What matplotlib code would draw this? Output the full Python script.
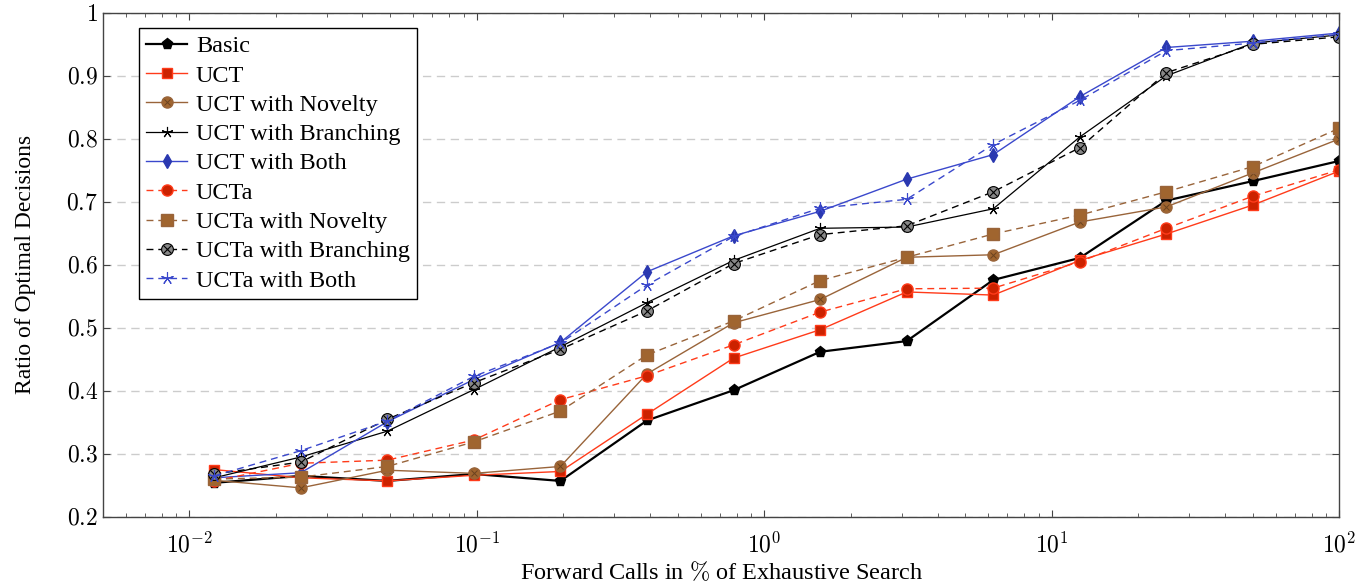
import matplotlib
matplotlib.use("Agg")
import matplotlib.pyplot as plt
from matplotlib.legend_handler import HandlerTuple
from matplotlib.ticker import LogLocator, NullFormatter, FixedLocator

plt.rcParams['font.family'] = ['Liberation Serif', 'DejaVu Serif']
plt.rcParams['mathtext.fontset'] = 'cm'

x = [100/2**k for k in range(13, -1, -1)]

basic      = [0.254, 0.265, 0.257, 0.268, 0.257, 0.353, 0.401, 0.462, 0.479, 0.576, 0.611, 0.702, 0.733, 0.765]
uct        = [0.275, 0.262, 0.257, 0.266, 0.272, 0.363, 0.452, 0.497, 0.557, 0.552, 0.607, 0.649, 0.695, 0.749]
uct_nov    = [0.258, 0.246, 0.274, 0.269, 0.280, 0.427, 0.508, 0.545, 0.612, 0.616, 0.668, 0.692, 0.746, 0.800]
uct_br     = [0.262, 0.295, 0.336, 0.402, 0.470, 0.540, 0.607, 0.658, 0.660, 0.689, 0.803, 0.900, 0.952, 0.965]
uct_both   = [0.262, 0.270, 0.351, 0.418, 0.477, 0.589, 0.646, 0.685, 0.736, 0.775, 0.867, 0.945, 0.955, 0.968]
ucta       = [0.257, 0.285, 0.290, 0.322, 0.386, 0.424, 0.473, 0.525, 0.562, 0.563, 0.605, 0.658, 0.709, 0.751]
ucta_nov   = [0.260, 0.263, 0.280, 0.319, 0.368, 0.457, 0.511, 0.575, 0.612, 0.649, 0.679, 0.716, 0.756, 0.817]
ucta_br    = [0.268, 0.287, 0.355, 0.413, 0.466, 0.527, 0.602, 0.648, 0.662, 0.716, 0.786, 0.905, 0.950, 0.962]
ucta_both  = [0.265, 0.305, 0.352, 0.423, 0.476, 0.568, 0.645, 0.690, 0.704, 0.791, 0.861, 0.940, 0.952, 0.966]

labels = ["Basic", "UCT", "UCT with Novelty", "UCT with Branching", "UCT with Both",
          "UCTa", "UCTa with Novelty", "UCTa with Branching", "UCTa with Both"]
ytick_vals = [0.2, 0.3, 0.4, 0.5, 0.6, 0.7, 0.8, 0.9, 1.0]
ytick_labels = ['0.2', '0.3', '0.4', '0.5', '0.6', '0.7', '0.8', '0.9', '1']
xtick_vals = [0.01, 0.1, 1, 10, 100]
xtick_labels = [r'$10^{-2}$', r'$10^{-1}$', r'$10^{0}$', r'$10^{1}$', r'$10^{2}$']

RED_L = '#ff3b1a'
RED_F = '#cc2200'
BROWN = '#99643a'
BROWN_F = '#a0652f'
BLUE = '#3a48cc'
BLUE_F = '#2a38b0'

fig = plt.figure(figsize=(13.71, 5.84), dpi=100)
ax = fig.add_axes([0.075, 0.115, 0.902, 0.863])

dash = (0, (5, 3.5))
star5 = (5, 2, 0)
handles = []

h = ax.plot(x, basic, color='black', lw=1.6, marker='p', ms=8, mfc='black', mec='black')[0]
handles.append(h)
h = ax.plot(x, uct, color=RED_L, lw=1.0, marker='s', ms=7.5, mfc=RED_F, mec=RED_L)[0]
handles.append(h)
h1 = ax.plot(x, uct_nov, color=BROWN, lw=1.0, marker='o', ms=8, mfc=BROWN_F, mec=BROWN)[0]
h2 = ax.plot(x, uct_nov, ls='none', marker='x', ms=5, mew=0.7, color='#6b4320')[0]
handles.append((h1, h2))
h = ax.plot(x, uct_br, color='black', lw=0.9, marker=star5, ms=8, mew=0.8)[0]
handles.append(h)
h = ax.plot(x, uct_both, color=BLUE, lw=1.0, marker='d', ms=7, mfc=BLUE_F, mec=BLUE_F)[0]
handles.append(h)
h = ax.plot(x, ucta, color=RED_L, lw=1.0, ls=dash, marker='o', ms=8, mfc=RED_F, mec=RED_L)[0]
handles.append(h)
h = ax.plot(x, ucta_nov, color=BROWN, lw=1.0, ls=dash, marker='s', ms=8, mfc=BROWN_F, mec=BROWN)[0]
handles.append(h)
h1 = ax.plot(x, ucta_br, color='black', lw=1.0, ls=dash, marker='o', ms=8.5, mfc='#888888', mec='black', mew=0.8)[0]
h2 = ax.plot(x, ucta_br, ls='none', marker='x', ms=5.5, mew=0.8, color='black')[0]
handles.append((h1, h2))
h = ax.plot(x, ucta_both, color=BLUE, lw=1.0, ls=dash, marker=star5, ms=9, mew=0.8)[0]
handles.append(h)

ax.set_xscale('log')
ax.set_xlim(0.005, 100)
ax.set_ylim(0.2, 1.0)
ax.set_yticks(ytick_vals)
ax.set_yticklabels(['$' + t + '$' for t in ytick_labels])
ax.xaxis.set_major_locator(FixedLocator(xtick_vals))
ax.set_xticklabels(xtick_labels)
ax.xaxis.set_minor_locator(LogLocator(base=10, subs=range(2, 10), numticks=20))
ax.xaxis.set_minor_formatter(NullFormatter())

ax.tick_params(which='both', direction='in', top=True, right=True, labelsize=17, color='#444444')
ax.tick_params(which='major', length=5)
ax.tick_params(which='minor', length=3)
ax.tick_params(axis='x', pad=11)
ax.yaxis.grid(True, ls=(0, (6, 4)), color='#cccccc', lw=1.0)
ax.set_axisbelow(True)
for s in ax.spines.values():
    s.set_color('#444444')
    s.set_linewidth(1.0)

ax.set_xlabel(r'Forward Calls in $\%$ of Exhaustive Search', fontsize=17.5, labelpad=2)
ax.set_ylabel('Ratio of Optimal Decisions', fontsize=17, labelpad=22)

leg = ax.legend(handles, labels, loc='upper left', bbox_to_anchor=(0.029, 0.97),
                fontsize=17.5, frameon=True, fancybox=False, edgecolor='black',
                framealpha=1, handlelength=1.7, handletextpad=0.35, labelspacing=0.3,
                borderpad=0.3, borderaxespad=0,
                handler_map={tuple: HandlerTuple(ndivide=1, pad=0)})
leg.get_frame().set_linewidth(1.0)

fig.savefig('out.png', dpi=100)
